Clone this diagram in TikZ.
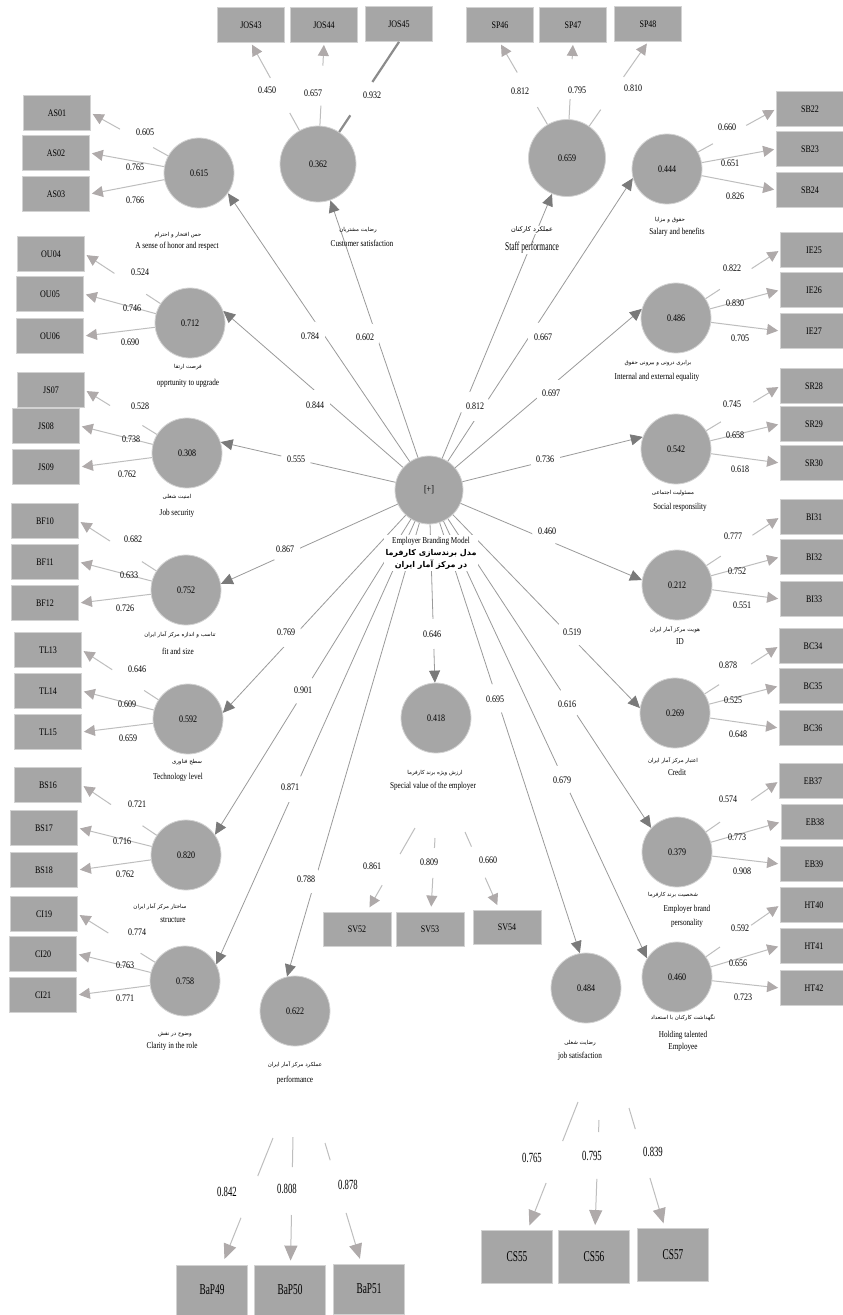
\documentclass[tikz,border=0pt]{standalone}
\usepackage{fontspec}
\setmainfont{Liberation Serif}
\newfontfamily\condf[FakeStretch=0.8]{Liberation Serif}
\newfontfamily\condg[FakeStretch=0.62]{Liberation Serif}
\newfontfamily\fafont[Script=Arabic]{DejaVu Sans}
\TeXXeTstate=1
\usetikzlibrary{arrows.meta}
\definecolor{cfill}{HTML}{A6A6A6}
\definecolor{cedge}{HTML}{D2D2D2}
\definecolor{indc}{HTML}{BEBEBE}
\definecolor{indtip}{HTML}{AFAAAA}
\definecolor{strc}{HTML}{9A9A9A}
\definecolor{strtip}{HTML}{7A7A7A}
\definecolor{thickc}{HTML}{8C8C8C}
\tikzset{
  lv/.style={circle, fill=cfill, draw=cedge, line width=0.8pt, minimum size=70pt, inner sep=0pt, font=\condf\fontsize{10}{12}\selectfont},
  mv/.style={rectangle, fill=cfill, draw=cedge, line width=0.8pt, minimum width=67pt, minimum height=35pt, inner sep=0pt, font=\condf\fontsize{10}{12}\selectfont},
  mvb/.style={mv, minimum width=71pt, minimum height=50pt, font=\condg\fontsize{15}{17}\selectfont},
  ind/.style={draw=indc, line width=1pt, shorten >=2pt, -{Triangle[length=11pt,width=11pt,color=indtip]}},
  indbig/.style={draw=indc, line width=1pt, -{Triangle[length=15pt,width=13pt,color=indtip]}},
  gapA/.style={dash pattern=on 17pt off 38pt on 600pt},
  gapT/.style={dash pattern=on 20pt off 40pt on 600pt},
  strl/.style={draw=strc, line width=0.8pt, -{Triangle[length=12pt,width=11pt,color=strtip]}},
  lab/.style={font=\condf\fontsize{10}{12}\selectfont, inner sep=1pt},
  slab/.style={lab, circle, fill=white, inner sep=0pt, minimum size=30pt},
  blab/.style={font=\condg\fontsize{14}{16}\selectfont, inner sep=1pt},
  enl/.style={font=\condf\fontsize{9}{10}\selectfont, inner sep=0.5pt},
  fal/.style={font=\fafont\fontsize{5.5}{6.5}\selectfont, inner sep=0.5pt},
}
\begin{document}
\begin{tikzpicture}[x=1pt,y=-1pt]
\fill[white] (0,0) rectangle (843,1315);
\useasboundingbox (0,0) rectangle (843,1315);

% ---------- hub ----------
\node[lv, minimum size=68pt] (hub) at (429,490) {[+]};

% ---------- latent variables ----------
\node[lv] (c615) at (199,173) {0.615};
\node[lv, minimum width=76pt, minimum height=72pt] (c362) at (318,164) {0.362};
\node[lv, minimum width=77pt, minimum height=70pt] (c659) at (567,158) {0.659};
\node[lv] (c444) at (667,169) {0.444};
\node[lv] (c712) at (190,323) {0.712};
\node[lv] (c486) at (676,318) {0.486};
\node[lv] (c308) at (187,453) {0.308};
\node[lv] (c542) at (676,449) {0.542};
\node[lv] (c752) at (186,590) {0.752};
\node[lv] (c212) at (677,585) {0.212};
\node[lv] (c592) at (188,719) {0.592};
\node[lv] (c269) at (675,713) {0.269};
\node[lv] (c820) at (186,855) {0.820};
\node[lv] (c379) at (677,852) {0.379};
\node[lv] (c758) at (185,981) {0.758};
\node[lv] (c460) at (677,977) {0.460};
\node[lv] (c622) at (295,1011) {0.622};
\node[lv] (c484) at (586,988) {0.484};
\node[lv] (c418) at (436,718) {0.418};

% ---------- indicators: top ----------
\node[mv] (jos43) at (251,25) {JOS43};
\node[mv] (jos44) at (324,25) {JOS44};
\node[mv] (jos45) at (399,24) {JOS45};
\node[mv] (sp46) at (500,25) {SP46};
\node[mv] (sp47) at (573,25) {SP47};
\node[mv] (sp48) at (648,24) {SP48};

% ---------- indicators: left ----------
\node[mv] (as01) at (57,113) {AS01};
\node[mv] (as02) at (56,153) {AS02};
\node[mv] (as03) at (56,194) {AS03};
\node[mv] (ou04) at (51,254) {OU04};
\node[mv] (ou05) at (50,294) {OU05};
\node[mv] (ou06) at (50,336) {OU06};
\node[mv] (js07) at (51,390) {JS07};
\node[mv] (js08) at (46,426) {JS08};
\node[mv] (js09) at (46,467) {JS09};
\node[mv] (bf10) at (45,521) {BF10};
\node[mv] (bf11) at (45,562) {BF11};
\node[mv] (bf12) at (45,603) {BF12};
\node[mv] (tl13) at (48,650) {TL13};
\node[mv] (tl14) at (48,691) {TL14};
\node[mv] (tl15) at (48,732) {TL15};
\node[mv] (bs16) at (48,785) {BS16};
\node[mv] (bs17) at (44,828) {BS17};
\node[mv] (bs18) at (44,870) {BS18};
\node[mv] (ci19) at (44,914) {CI19};
\node[mv] (ci20) at (43,954) {CI20};
\node[mv] (ci21) at (43,995) {CI21};

% ---------- indicators: right ----------
\node[mv] (sb22) at (810,109) {SB22};
\node[mv] (sb23) at (810,149) {SB23};
\node[mv] (sb24) at (810,190) {SB24};
\node[mv] (ie25) at (814,250) {IE25};
\node[mv] (ie26) at (814,290) {IE26};
\node[mv] (ie27) at (814,331) {IE27};
\node[mv] (sr28) at (814,386) {SR28};
\node[mv] (sr29) at (814,424) {SR29};
\node[mv] (sr30) at (814,463) {SR30};
\node[mv] (bi31) at (814,517) {BI31};
\node[mv] (bi32) at (814,557) {BI32};
\node[mv] (bi33) at (814,599) {BI33};
\node[mv] (bc34) at (813,646) {BC34};
\node[mv] (bc35) at (813,686) {BC35};
\node[mv] (bc36) at (813,728) {BC36};
\node[mv] (eb37) at (813,781) {EB37};
\node[mv] (eb38) at (815,822) {EB38};
\node[mv] (eb39) at (814,864) {EB39};
\node[mv] (ht40) at (814,905) {HT40};
\node[mv] (ht41) at (814,946) {HT41};
\node[mv] (ht42) at (814,988) {HT42};

% ---------- indicators: bottom ----------
\node[mv, minimum width=68pt, minimum height=34pt] (sv52) at (357,929) {SV52};
\node[mv, minimum width=68pt, minimum height=34pt] (sv53) at (430,929) {SV53};
\node[mv, minimum width=68pt, minimum height=34pt] (sv54) at (507,927) {SV54};
\node[mvb] (bap49) at (212,1290) {BaP49};
\node[mvb] (bap50) at (290,1290) {BaP50};
\node[mvb] (bap51) at (369,1289) {BaP51};
\node[mvb, minimum height=53pt] (cs55) at (517,1257) {CS55};
\node[mvb, minimum height=53pt] (cs56) at (594,1257) {CS56};
\node[mvb, minimum height=53pt] (cs57) at (673,1255) {CS57};

% ---------- outer loadings: top ----------
\draw[ind, gapT] (c362) -- (jos43.south);
\draw[ind, gapT] (c362) -- (jos44.south);
\draw[draw=thickc, line width=2.2pt, gapT] (c362) -- (jos45.south);
\draw[ind, gapT] (c659) -- (sp46.south);
\draw[ind, gapT] (c659) -- (sp47.south);
\draw[ind, gapT] (c659) -- (sp48.south);

% ---------- outer loadings: left ----------
\draw[ind, gapA] (c615) -- (as01.east);
\draw[ind] (c615) -- (as02.east);
\draw[ind] (c615) -- (as03.east);
\draw[ind, gapA] (c712) -- (ou04.east);
\draw[ind] (c712) -- (ou05.east);
\draw[ind] (c712) -- (ou06.east);
\draw[ind, gapA] (c308) -- (js07.east);
\draw[ind] (c308) -- (js08.east);
\draw[ind] (c308) -- (js09.east);
\draw[ind, gapA] (c752) -- (bf10.east);
\draw[ind] (c752) -- (bf11.east);
\draw[ind] (c752) -- (bf12.east);
\draw[ind, gapA] (c592) -- (tl13.east);
\draw[ind] (c592) -- (tl14.east);
\draw[ind] (c592) -- (tl15.east);
\draw[ind, gapA] (c820) -- (bs16.east);
\draw[ind] (c820) -- (bs17.east);
\draw[ind] (c820) -- (bs18.east);
\draw[ind, gapA] (c758) -- (ci19.east);
\draw[ind] (c758) -- (ci20.east);
\draw[ind] (c758) -- (ci21.east);

% ---------- outer loadings: right ----------
\draw[ind, gapA] (c444) -- (sb22.west);
\draw[ind] (c444) -- (sb23.west);
\draw[ind] (c444) -- (sb24.west);
\draw[ind, gapA] (c486) -- (ie25.west);
\draw[ind] (c486) -- (ie26.west);
\draw[ind] (c486) -- (ie27.west);
\draw[ind, gapA] (c542) -- (sr28.west);
\draw[ind] (c542) -- (sr29.west);
\draw[ind] (c542) -- (sr30.west);
\draw[ind, gapA] (c212) -- (bi31.west);
\draw[ind] (c212) -- (bi32.west);
\draw[ind] (c212) -- (bi33.west);
\draw[ind, gapA] (c269) -- (bc34.west);
\draw[ind] (c269) -- (bc35.west);
\draw[ind] (c269) -- (bc36.west);
\draw[ind, gapA] (c379) -- (eb37.west);
\draw[ind] (c379) -- (eb38.west);
\draw[ind] (c379) -- (eb39.west);
\draw[ind, gapA] (c460) -- (ht40.west);
\draw[ind] (c460) -- (ht41.west);
\draw[ind] (c460) -- (ht42.west);

% ---------- outer loadings: bottom ----------
\coordinate (s52) at (415,828);
\coordinate (s53) at (435,838);
\coordinate (s54) at (465,832);
\coordinate (s49) at (273,1138);
\coordinate (s50) at (293,1137);
\coordinate (s51) at (325,1143);
\coordinate (s55) at (578,1102);
\coordinate (s56) at (599,1120);
\coordinate (s57) at (629,1108);
\draw[ind, dash pattern=on 30pt off 36pt on 600pt, shorten >=5pt] (s52) -- (sv52);
\draw[ind, dash pattern=on 10pt off 30pt on 600pt, shorten >=5pt] (s53) -- (sv53);
\draw[ind, dash pattern=on 16pt off 34pt on 600pt, shorten >=5pt] (s54) -- (sv54);
\draw[indbig, dash pattern=on 41pt off 45pt on 600pt, shorten >=6pt] (s49) -- (bap49);
\draw[indbig, dash pattern=on 30pt off 48pt on 600pt, shorten >=4pt] (s50) -- (bap50);
\draw[indbig, dash pattern=on 18pt off 55pt on 600pt, shorten >=5pt] (s51) -- (bap51);
\draw[indbig, dash pattern=on 42pt off 45pt on 600pt, shorten >=5pt] (s55) -- (cs55);
\draw[indbig, dash pattern=on 12pt off 47pt on 600pt, shorten >=5pt] (s56) -- (cs56);
\draw[indbig, dash pattern=on 22pt off 51pt on 600pt, shorten >=5pt] (s57) -- (cs57);

% ---------- inner model ----------
\draw[strl] (hub) -- (c615.-35);
\draw[strl] (hub) -- (c362);
\draw[strl] (hub) -- (c659);
\draw[strl] (hub) -- (c444.-165);
\draw[strl] (hub) -- (c712.20);
\draw[strl] (hub) -- (c486.165);
\draw[strl] (hub) -- (c308.18);
\draw[strl] (hub) -- (c542.160);
\draw[strl] (hub) -- (c752.10);
\draw[strl] (hub) -- (c212.172);
\draw[strl] (hub) -- (c592.10);
\draw[strl] (hub) -- (c269.172);
\draw[strl] (hub) -- (c820.35);
\draw[strl] (hub) -- (c379.137);
\draw[strl] (hub) -- (c758.28);
\draw[strl] (hub) -- (c460.148);
\draw[strl] (hub) -- (c622.103);
\draw[strl] (hub) -- (c484.100);
\draw[strl] (hub) -- (c418);

% ---------- path coefficients ----------
\node[slab] (p615) at (310,336) {0.784};
\node[slab] (p362) at (365,337) {0.602};
\node[slab] (p659) at (475,406) {0.812};
\node[slab] (p444) at (543,337) {0.667};
\node[slab] (p486) at (551,393) {0.697};
\node[slab] (p542) at (545,459) {0.736};
\node[slab] (p212) at (547,531) {0.460};
\node[slab] (p269) at (572,632) {0.519};
\node[slab] (p379) at (567,704) {0.616};
\node[slab] (p460) at (562,780) {0.679};
\node[slab] (p484) at (495,699) {0.695};
\node[slab] (p418) at (432,634) {0.646};
\node[slab] (p622) at (306,879) {0.788};
\node[slab] (p758) at (290,787) {0.871};
\node[slab] (p820) at (303,690) {0.901};
\node[slab] (p592) at (286,632) {0.769};
\node[slab] (p752) at (285,549) {0.867};
\node[slab] (p308) at (296,459) {0.555};
\node[slab] (p712) at (315,405) {0.844};

% ---------- loadings: labels ----------
\node[lab] (l43) at (267,90) {0.450};
\node[lab] (l44) at (313,93) {0.657};
\node[lab] (l45) at (372,95) {0.932};
\node[lab] (l46) at (520,91) {0.812};
\node[lab] (l47) at (577,90) {0.795};
\node[lab] (l48) at (633,88) {0.810};

\node[lab] (l01) at (145,132) {0.605};
\node[lab] (l02) at (135,167) {0.765};
\node[lab] (l03) at (135,200) {0.766};
\node[lab] (l04) at (140,272) {0.524};
\node[lab] (l05) at (132,308) {0.746};
\node[lab] (l06) at (130,342) {0.690};
\node[lab] (l07) at (140,406) {0.528};
\node[lab] (l08) at (131,439) {0.738};
\node[lab] (l09) at (127,474) {0.762};
\node[lab] (l10) at (133,539) {0.682};
\node[lab] (l11) at (129,575) {0.633};
\node[lab] (l12) at (125,608) {0.726};
\node[lab] (l13) at (137,669) {0.646};
\node[lab] (l14) at (127,704) {0.609};
\node[lab] (l15) at (128,738) {0.659};
\node[lab] (l16) at (137,804) {0.721};
\node[lab] (l17) at (122,841) {0.716};
\node[lab] (l18) at (125,874) {0.762};
\node[lab] (l19) at (137,932) {0.774};
\node[lab] (l20) at (125,965) {0.763};
\node[lab] (l21) at (125,998) {0.771};

\node[lab] (l22) at (727,127) {0.660};
\node[lab] (l23) at (730,163) {0.651};
\node[lab] (l24) at (735,196) {0.826};
\node[lab] (l25) at (732,268) {0.822};
\node[lab] (l26) at (735,303) {0.830};
\node[lab] (l27) at (740,338) {0.705};
\node[lab] (l28) at (732,404) {0.745};
\node[lab] (l29) at (735,435) {0.658};
\node[lab] (l30) at (740,469) {0.618};
\node[lab] (l31) at (733,536) {0.777};
\node[lab] (l32) at (737,571) {0.752};
\node[lab] (l33) at (742,605) {0.551};
\node[lab] (l34) at (728,665) {0.878};
\node[lab] (l35) at (733,700) {0.525};
\node[lab] (l36) at (738,734) {0.648};
\node[lab] (l37) at (728,799) {0.574};
\node[lab] (l38) at (737,837) {0.773};
\node[lab] (l39) at (742,871) {0.908};
\node[lab] (l40) at (740,928) {0.592};
\node[lab] (l41) at (738,963) {0.656};
\node[lab] (l42) at (743,997) {0.723};

\node[lab] (l52) at (372,866) {0.861};
\node[lab] (l53) at (429,862) {0.809};
\node[lab] (l54) at (488,860) {0.660};
\node[blab] (l49) at (227,1192) {0.842};
\node[blab] (l50) at (287,1189) {0.808};
\node[blab] (l51) at (348,1185) {0.878};
\node[blab] (l55) at (532,1158) {0.765};
\node[blab] (l56) at (592,1156) {0.795};
\node[blab] (l57) at (653,1152) {0.839};

% ---------- construct names ----------
\node[fill=white, inner sep=1.5pt, align=center] (hublab) at (431,553)
  {{\condf\fontsize{9}{11}\selectfont Employer Branding Model}\\
   {\fafont\bfseries\fontsize{8}{12}\selectfont\beginR مدل برندسازی کارفرما\endR}\\
   {\fafont\bfseries\fontsize{8}{12}\selectfont\beginR در مرکز آمار ایران\endR}};

\node[fal] (f615) at (178,235) {\beginR حس افتخار و احترام\endR};
\node[enl] (e615) at (177,246) {A sense of honor and respect};
\node[fal] (f362) at (358,230) {\beginR رضایت مشتریان\endR};
\node[enl] (e362) at (362,243) {Customer satisfaction};
\node[fal, fill=white, font=\fafont\fontsize{6.5}{7.5}\selectfont] (f659) at (532,230) {\beginR عملکرد کارکنان\endR};
\node[enl, fill=white, font=\condg\fontsize{12}{14}\selectfont] (e659) at (532,248) {Staff performance};
\node[fal] (f444) at (670,220) {\beginR حقوق و مزایا\endR};
\node[enl] (e444) at (677,232) {Salary and benefits};
\node[fal] (f712) at (188,367) {\beginR فرصت ارتقا\endR};
\node[enl] (e712) at (188,383) {opprtunity to upgrade};
\node[fal] (f486) at (658,363) {\beginR برابری درونی و بیرونی حقوق\endR};
\node[enl] (e486) at (657,377) {Internal and external equality};
\node[fal] (f308) at (177,497) {\beginR امنیت شغلی\endR};
\node[enl] (e308) at (177,513) {Job security};
\node[fal] (f542) at (673,493) {\beginR مسئولیت اجتماعی\endR};
\node[enl] (e542) at (680,507) {Social responsility};
\node[fal] (f752) at (180,635) {\beginR تناسب و اندازه مرکز آمار ایران\endR};
\node[enl] (e752) at (178,651) {fit and size};
\node[fal] (f212) at (675,630) {\beginR هویت مرکز آمار ایران\endR};
\node[enl] (e212) at (680,642) {ID};
\node[fal] (f592) at (187,762) {\beginR سطح فناوری\endR};
\node[enl] (e592) at (178,777) {Technology level};
\node[fal] (f269) at (673,761) {\beginR اعتبار مرکز آمار ایران\endR};
\node[enl] (e269) at (677,772) {Credit};
\node[fal] (f820) at (160,907) {\beginR ساختار مرکز آمار ایران\endR};
\node[enl] (e820) at (173,920) {structure};
\node[fal] (f379) at (673,895) {\beginR شخصیت برند کارفرما\endR};
\node[enl] (e379) at (687,909) {Employer brand};
\node[enl] (e379b) at (687,923) {personality};
\node[fal] (f758) at (175,1035) {\beginR وضوح در نقش\endR};
\node[enl] (e758) at (172,1046) {Clarity in the role};
\node[fal] (f460) at (683,1018) {\beginR نگهداشت کارکنان با استعداد\endR};
\node[enl] (e460) at (683,1035) {Holding talented};
\node[enl] (e460b) at (683,1047) {Employee};
\node[fal] (f622) at (295,1065) {\beginR عملکرد مرکز آمار ایران\endR};
\node[enl] (e622) at (295,1080) {performance};
\node[fal] (f484) at (580,1043) {\beginR رضایت شغلی\endR};
\node[enl] (e484) at (580,1056) {job satisfaction};
\node[fal] (f418) at (435,773) {\beginR ارزش ویژه برند کارفرما\endR};
\node[enl] (e418) at (433,786) {Special value of the employer};
\end{tikzpicture}
\end{document}
